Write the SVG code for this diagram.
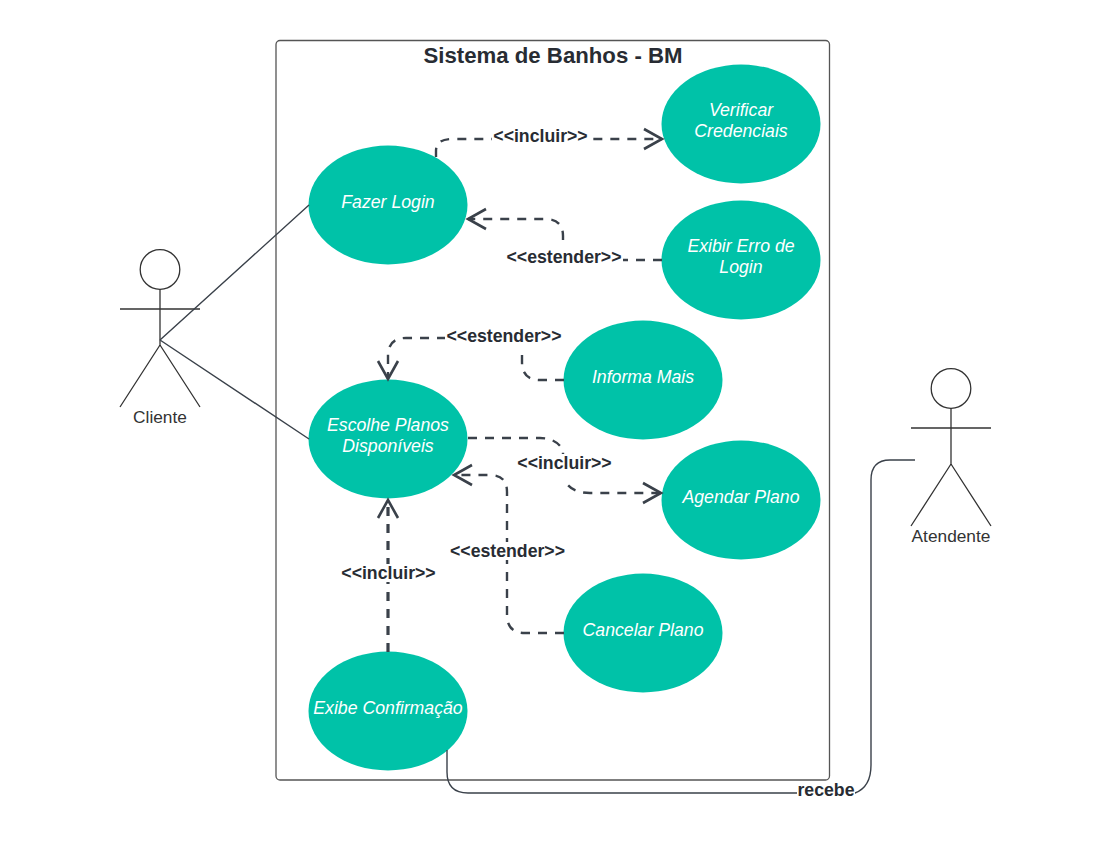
<svg xmlns="http://www.w3.org/2000/svg" width="1111" height="843" viewBox="0 0 1111 843">
<style>
text{font-family:"Liberation Sans",Arial,sans-serif}
.uc{fill:#00c2a8}
.ut{fill:#fff;font-style:italic;font-size:17.7px;text-anchor:middle}
.st{fill:none;stroke:#333;stroke-width:1.3}
.an{fill:#333;font-size:17.3px;text-anchor:middle}
.dash{fill:none;stroke:#3a414a;stroke-width:2.4;stroke-dasharray:9 8}
.thick{stroke-width:3.200}
.thin{fill:none;stroke:#3a414a;stroke-width:1.4}
.lb{fill:#282c33;font-weight:bold;font-size:17.700px;text-anchor:middle}
.bg{fill:#fff}
</style>
<defs>
<marker id="open" markerUnits="userSpaceOnUse" markerWidth="24" markerHeight="26" refX="20" refY="13" orient="auto">
<path d="M2 3 L20 13 L2 23" fill="none" stroke="#3a414a" stroke-width="2.6"/>
</marker>
</defs>
<g id="system">
<rect x="276" y="40.500" width="553.500" height="739.500" rx="4" fill="#fff" stroke="#555" stroke-width="1.300"/>
<text x="553" y="63" text-anchor="middle" font-size="22.200" font-weight="bold" fill="#282c33">Sistema de Banhos - BM</text>
</g>
<g id="uc-fazer-login"><ellipse class="uc" cx="388" cy="205" rx="79.500" ry="59.500"/><text class="ut" x="388" y="208">Fazer Login</text></g>
<g id="uc-verificar"><ellipse class="uc" cx="741" cy="124" rx="79.500" ry="59.500"/><text class="ut" x="741" y="116">Verificar</text><text class="ut" x="741" y="137">Credenciais</text></g>
<g id="uc-exibir-erro"><ellipse class="uc" cx="741" cy="260" rx="79.500" ry="59.500"/><text class="ut" x="741" y="252">Exibir Erro de</text><text class="ut" x="741" y="273">Login</text></g>
<g id="uc-informa"><ellipse class="uc" cx="643" cy="380" rx="79.500" ry="59.500"/><text class="ut" x="643" y="383">Informa Mais</text></g>
<g id="uc-escolhe"><ellipse class="uc" cx="388" cy="439" rx="79.500" ry="59.500"/><text class="ut" x="388" y="431">Escolhe Planos</text><text class="ut" x="388" y="452">Disponíveis</text></g>
<g id="uc-agendar"><ellipse class="uc" cx="741" cy="500" rx="79.500" ry="59.500"/><text class="ut" x="741" y="503">Agendar Plano</text></g>
<g id="uc-cancelar"><ellipse class="uc" cx="643" cy="633" rx="79.500" ry="59.500"/><text class="ut" x="643" y="636">Cancelar Plano</text></g>
<g id="uc-exibe"><ellipse class="uc" cx="388" cy="711" rx="79.500" ry="59.500"/><text class="ut" x="388" y="714">Exibe Confirmação</text></g>
<g id="actor-cliente">
<circle class="st" cx="160" cy="269.500" r="19.800"/>
<path class="st" d="M160 289V345M120 309H200M160 345L120 407M160 345L200 407"/>
<text class="an" x="160" y="423">Cliente</text>
</g>
<g id="actor-atendente">
<circle class="st" cx="951" cy="388.500" r="19.800"/>
<path class="st" d="M951 408V464M911 428H991M951 464L911 526M951 464L991 526"/>
<text class="an" x="951" y="542">Atendente</text>
</g>
<g id="connectors">
<path class="thin" d="M160 340L309 205M160 340L309 439"/>
<path class="thin" d="M447 750V772Q447 793 468 793H855Q871 787 871 765V480Q871 460 890 460H915"/>
<path class="dash" marker-end="url(#open)" d="M436 157V151Q436 139 452 139H662"/>
<path class="dash" marker-end="url(#open)" d="M662 260H563V236Q563 219 545 219H468"/>
<path class="dash" marker-end="url(#open)" d="M564 380H540Q522 380 522 362V338H406Q388 338 388 356V379"/>
<path class="dash" marker-end="url(#open)" d="M468 438H540Q556 438 563 450V476Q568 493 590 493H661"/>
<path class="dash" marker-end="url(#open)" d="M564 633H525Q507 633 507 615V492Q507 475 490 475H454"/>
<path class="dash thick" marker-end="url(#open)" d="M388 652V500"/>
<g id="connector-labels">
<rect class="bg" x="492" y="127" width="97" height="18"/><text class="lb" x="540.500" y="142">&lt;&lt;incluir&gt;&gt;</text>
<rect class="bg" x="505" y="248" width="118" height="18"/><text class="lb" x="564" y="263">&lt;&lt;estender&gt;&gt;</text>
<rect class="bg" x="445" y="327" width="118" height="28"/><text class="lb" x="504" y="342">&lt;&lt;estender&gt;&gt;</text>
<rect class="bg" x="516" y="454" width="97" height="28"/><text class="lb" x="564.500" y="469">&lt;&lt;incluir&gt;&gt;</text>
<rect class="bg" x="449" y="542" width="118" height="18"/><text class="lb" x="507.500" y="557">&lt;&lt;estender&gt;&gt;</text>
<rect class="bg" x="340" y="564" width="97" height="18"/><text class="lb" x="388.500" y="579">&lt;&lt;incluir&gt;&gt;</text>
<rect class="bg" x="797" y="781" width="58" height="18"/><text class="lb" x="826" y="796">recebe</text>
</g>
</g>
</svg>
